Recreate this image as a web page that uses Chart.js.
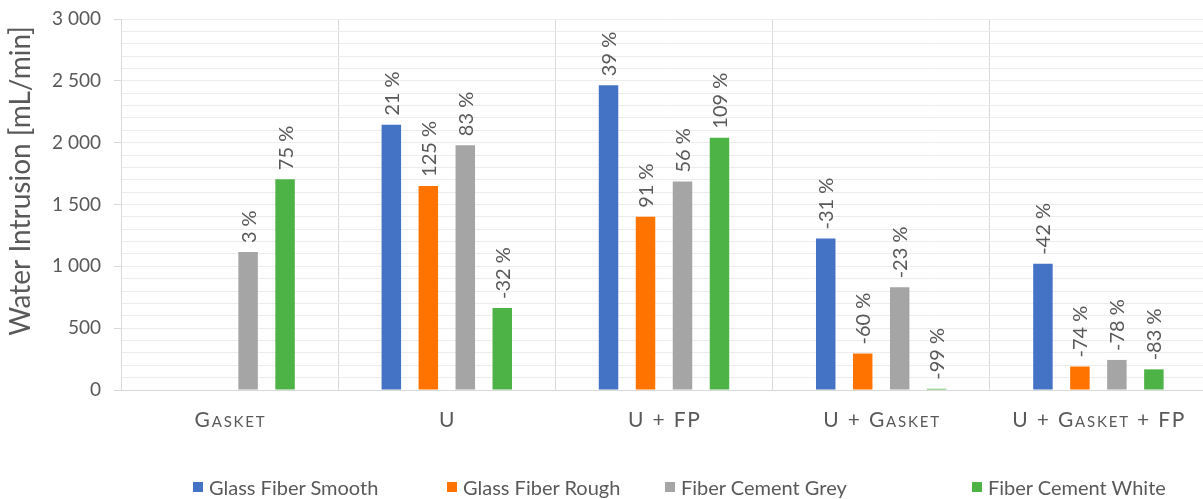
<!DOCTYPE html>
<html>
<head>
<meta charset="utf-8">
<script src="https://cdn.jsdelivr.net/npm/chart.js@4.4.1/dist/chart.umd.min.js"></script>
<style>
  html, body { margin: 0; padding: 0; background: #fff; overflow: hidden; }
  #wrap { position: relative; width: 1203px; height: 499px; overflow: hidden; }
  #chart { position: absolute; left: 0; top: 0; }
  #legend { position: absolute; left: 0; top: 0; width: 100%; height: 100%; pointer-events: none;
            font-family: Lato, "Open Sans", sans-serif; font-size: 20px; color: #595959; }
  .item { position: absolute; top: 475px; height: 24px; display: flex; align-items: center; white-space: nowrap; }
  .sw { width: 10px; height: 10px; margin-right: 6px; }
</style>
</head>
<body>
<div id="wrap">
  <canvas id="chart" width="1208" height="499"></canvas>
  <div id="legend"></div>
</div>
<script>
// Test configurations along the category axis
const categories = ['Gasket', 'U', 'U + FP', 'U + Gasket', 'U + Gasket + FP'];

// Panel types
const seriesNames = ['Glass Fiber Smooth', 'Glass Fiber Rough', 'Fiber Cement Grey', 'Fiber Cement White'];
const seriesColors = ['#4472C4', '#FF7300', '#A5A5A5', '#4EB347'];

// Water intrusion, mL/min (null = not tested)
const glassFiberSmooth = [null, 2145, 2465, 1225, 1020];
const glassFiberRough  = [null, 1650, 1400, 295, 190];
const fiberCementGrey  = [1115, 1980, 1685, 830, 243];
const fiberCementWhite = [1705, 663, 2040, 10, 167];

// Relative change labels printed above each bar
const pctSmooth = [null, '21 %', '39 %', '-31 %', '-42 %'];
const pctRough  = [null, '125 %', '91 %', '-60 %', '-74 %'];
const pctGrey   = ['3 %', '83 %', '56 %', '-23 %', '-78 %'];
const pctWhite  = ['75 %', '-32 %', '109 %', '-99 %', '-83 %'];

// Value axis
const yTickValues = [0, 500, 1000, 1500, 2000, 2500, 3000];
const yTickLabels = ['0', '500', '1 000', '1 500', '2 000', '2 500', '3 000'];
const yTitle = 'Water Intrusion [mL/min]';

const seriesValues = [glassFiberSmooth, glassFiberRough, fiberCementGrey, fiberCementWhite];
const seriesLabels = [pctSmooth, pctRough, pctGrey, pctWhite];

const FONT = 'Lato, "Open Sans", sans-serif';
const TEXT = '#595959';

const barLabels = {
  id: 'barLabels',
  afterDatasetsDraw(chart) {
    const ctx = chart.ctx;
    ctx.save();
    ctx.font = '20px ' + FONT;
    ctx.fillStyle = TEXT;
    ctx.textAlign = 'left';
    ctx.textBaseline = 'middle';
    chart.data.datasets.forEach((ds, di) => {
      const meta = chart.getDatasetMeta(di);
      meta.data.forEach((bar, i) => {
        const txt = seriesLabels[di][i];
        if (ds.data[i] == null || !txt) return;
        ctx.save();
        ctx.translate(bar.x + 1, bar.y - 9);
        ctx.rotate(-Math.PI / 2);
        ctx.fillText(txt, 0, 0);
        ctx.restore();
      });
    });
    ctx.restore();
  }
};

const axisText = {
  id: 'axisText',
  afterDraw(chart) {
    const ctx = chart.ctx;
    const xs = chart.scales.x;
    ctx.save();
    // category names in small caps
    ctx.font = 'small-caps 21px ' + FONT;
    if ('fontVariantCaps' in ctx) ctx.fontVariantCaps = 'small-caps';
    if ('letterSpacing' in ctx) ctx.letterSpacing = '1.8px';
    ctx.fillStyle = TEXT;
    ctx.textAlign = 'center';
    ctx.textBaseline = 'middle';
    categories.forEach((c, i) => {
      ctx.fillText(c, xs.getPixelForTick(i) + 0.9, 420);
    });
    ctx.restore();

    // value axis title
    ctx.save();
    ctx.font = '28px ' + FONT;
    ctx.fillStyle = TEXT;
    ctx.textAlign = 'center';
    ctx.textBaseline = 'middle';
    ctx.translate(21, 181);
    ctx.rotate(-Math.PI / 2);
    ctx.fillText(yTitle, 0, 0);
    ctx.restore();
  }
};

const chart = new Chart(document.getElementById('chart'), {
  type: 'bar',
  data: {
    labels: categories,
    datasets: seriesNames.map((name, i) => ({
      label: name,
      data: seriesValues[i],
      backgroundColor: seriesColors[i],
      borderWidth: 0,
      categoryPercentage: 0.681,
      barPercentage: 0.527
    }))
  },
  options: {
    responsive: false,
    animation: false,
    devicePixelRatio: 1,
    layout: { padding: { top: 19, right: 1, bottom: 0, left: 0 } },
    plugins: { legend: { display: false }, tooltip: { enabled: false } },
    scales: {
      x: {
        grid: { color: '#d9d9d9', offset: true, drawTicks: false, lineWidth: 1 },
        border: { color: '#d9d9d9' },
        ticks: { display: false },
        afterFit(s) { s.height = 109; }
      },
      y: {
        min: 0, max: 3000,
        ticks: {
          stepSize: 100,
          autoSkip: false,
          padding: 13,
          color: TEXT,
          font: { family: FONT, size: 19 },
          callback(v) {
            const k = yTickValues.indexOf(v);
            return k >= 0 ? yTickLabels[k] : '';
          }
        },
        grid: {
          color: (c) => (c.tick && c.tick.value === 0 ? '#d9d9d9' : '#ececec'),
          tickColor: (c) => (c.tick && c.tick.value % 500 === 0 ? '#d9d9d9' : 'rgba(0,0,0,0)'),
          tickLength: 7
        },
        border: { color: '#d9d9d9' },
        afterFit(s) { s.width = 121; s.paddingTop = 0; s.paddingBottom = 0; }
      }
    }
  },
  plugins: [barLabels, axisText]
});

// legend row
const legendLeft = [193, 447, 665, 972];
const legendEl = document.getElementById('legend');
seriesNames.forEach((name, i) => {
  const item = document.createElement('div');
  item.className = 'item';
  item.style.left = legendLeft[i] + 'px';
  const sw = document.createElement('span');
  sw.className = 'sw';
  sw.style.background = seriesColors[i];
  const t = document.createElement('span');
  t.textContent = name;
  item.appendChild(sw);
  item.appendChild(t);
  legendEl.appendChild(item);
});
</script>
</body>
</html>
